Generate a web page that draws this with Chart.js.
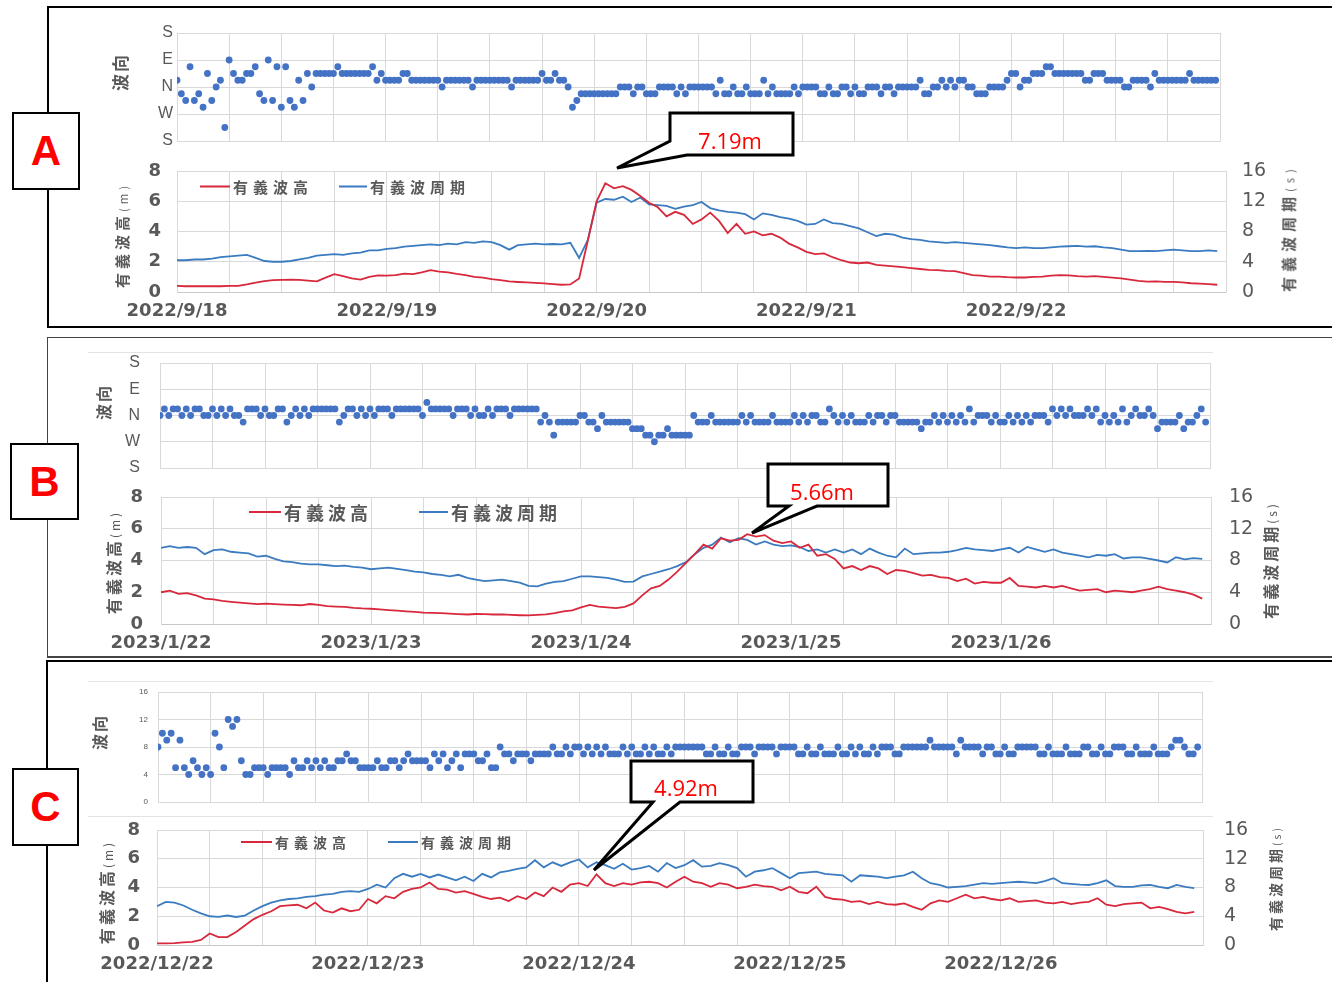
<!DOCTYPE html>
<html lang="ja">
<head>
<meta charset="utf-8">
<title>有義波高・有義波周期・波向</title>
<script src="https://cdn.jsdelivr.net/npm/chart.js@4.4.1/dist/chart.umd.min.js"></script>
<style>
html, body { margin: 0; padding: 0; background: #fff; }
body { position: relative; width: 1332px; height: 982px; overflow: hidden; font-family: "Noto Sans CJK JP", "Noto Sans", sans-serif; }
canvas { position: absolute; }
.frame { position: absolute; box-sizing: border-box; }
.tag { position: absolute; box-sizing: border-box; border: 2px solid #000; background: #fff; color: #f00; font: bold 42px "Liberation Sans", sans-serif; display: flex; align-items: center; justify-content: center; z-index: 5; }
.vt { position: absolute; white-space: nowrap; color: #595959; font-weight: bold; line-height: 1; transform: translate(-50%, -50%) rotate(-90deg); }
.vt small { font-size: 0.75em; font-weight: normal; }
.leg { position: absolute; white-space: nowrap; color: #595959; font-weight: bold; line-height: 1; display: flex; align-items: center; transform: translateY(-50%); }
.leg i { display: inline-block; height: 2px; margin-right: 3px; }
.sep { position: absolute; height: 1px; background: #e3e3e3; }
#callouts { position: absolute; left: 0; top: 0; z-index: 6; }
.note { position: absolute; color: #f00; font: 22px "Open Sans", sans-serif; line-height: 1; transform: translate(-50%, -50%); z-index: 7; }
</style>
</head>
<body>

<!-- panel frames -->
<div class="frame" style="left:47px;top:6px;width:1300px;height:322px;border:2px solid #000;"></div>
<div class="frame" style="left:47px;top:337px;width:1300px;height:321px;border:1px solid #444;border-bottom-width:2px;"></div>
<div class="frame" style="left:46px;top:660px;width:1300px;height:340px;border:2px solid #000;"></div>

<div class="sep" style="left:88px;top:352px;width:1125px;"></div>
<div class="sep" style="left:88px;top:681px;width:1125px;"></div>
<div class="sep" style="left:88px;top:816px;width:1125px;"></div>

<div class="tag" style="left:12px;top:112px;width:68px;height:78px;">A</div>
<div class="tag" style="left:10px;top:443px;width:69px;height:77px;">B</div>
<div class="tag" style="left:12px;top:768px;width:67px;height:78px;">C</div>

<canvas id="dirA"></canvas>
<canvas id="waveA"></canvas>
<canvas id="dirB"></canvas>
<canvas id="waveB"></canvas>
<canvas id="dirC"></canvas>
<canvas id="waveC"></canvas>

<!-- axis titles -->
<div class="vt" style="left:119px;top:72px;font-size:17px;letter-spacing:2px;">波向</div>
<div class="vt" style="left:122px;top:235px;font-size:15px;letter-spacing:4px;">有義波高<small>(m)</small></div>
<div class="vt" style="left:1288px;top:228px;font-size:15px;letter-spacing:5px;">有義波周期<small>(s)</small></div>

<div class="vt" style="left:103px;top:402px;font-size:16px;letter-spacing:2px;">波向</div>
<div class="vt" style="left:113px;top:562px;font-size:16px;letter-spacing:3px;">有義波高<small>(m)</small></div>
<div class="vt" style="left:1270px;top:560px;font-size:16px;letter-spacing:3px;">有義波周期<small>(s)</small></div>

<div class="vt" style="left:99px;top:732px;font-size:16px;letter-spacing:2px;">波向</div>
<div class="vt" style="left:106px;top:892px;font-size:16px;letter-spacing:3px;">有義波高<small>(m)</small></div>
<div class="vt" style="left:1275px;top:878px;font-size:14px;letter-spacing:3px;">有義波周期<small>(s)</small></div>

<!-- peak callouts -->
<svg id="callouts" width="1332" height="982">
  <polygon points="670,113 793,113 793,155 687,155 617,168 670,141" fill="#fff" stroke="#000" stroke-width="3"/>
  <polygon points="768,464 888,464 888,506 817,506 752,533 789,506 768,506" fill="#fff" stroke="#000" stroke-width="3"/>
  <polygon points="631,761 753,761 753,802 680,802 594,870 653,802 631,802" fill="#fff" stroke="#000" stroke-width="3"/>
</svg>
<div class="note" style="left:730px;top:140px;">7.19m</div>
<div class="note" style="left:822px;top:491px;">5.66m</div>
<div class="note" style="left:686px;top:787px;">4.92m</div>

<script>
// tick labels
const daysA = ['2022/9/18', '2022/9/19', '2022/9/20', '2022/9/21', '2022/9/22'];
const daysB = ['2023/1/22', '2023/1/23', '2023/1/24', '2023/1/25', '2023/1/26'];
const daysC = ['2022/12/22', '2022/12/23', '2022/12/24', '2022/12/25', '2022/12/26'];
const compassLabels = ['S', 'W', 'N', 'E', 'S'];
const codeLabels = ['0', '4', '8', '12', '16'];
const legendNames = ['有義波高', '有義波周期'];

// wave direction every 30 min, in 16-point compass steps (0 = N, 4 = E, -4 = W)
const dirA = [1,-1,-2,3,-2,-1,-3,2,-2,0,1,-6,
  4,2,1,1,2,2,3,-1,
  -2,4,-2,3,-3,3,-2,-3,1,-2,2,0,
  2,2,2,2,2,3,2,2,2,2,2,2,2,
  3,
  1,2,1,1,1,1,
  2,2,
  1,1,1,1,1,1,1,0,1,1,1,1,1,1,0,1,1,1,1,1,1,1,1,0,1,1,1,1,1,1,2,1,1,2,1,1,
  0,-3,-2,
  -1,-1,-1,-1,-1,-1,-1,-1,-1,
  0,0,0,
  -1,0,0,-1,-1,-1,0,
  0,0,0,-1,0,-1,0,0,0,0,0,0,
  -1,1,
  -1,-1,0,-1,-1,0,
  -1,-1,-1,1,-1,0,-1,-1,-1,-1,
  0,-1,0,0,0,0,
  -1,-1,0,-1,-1,
  0,0,-1,0,-1,-1,0,
  0,0,-1,0,0,-1,0,0,0,0,0,
  1,-1,-1,0,0,1,0,1,0,1,1,0,0,
  -1,-1,-1,0,0,0,0,
  1,2,2,0,1,1,
  2,2,2,3,3,2,2,2,2,2,2,2,1,1,2,2,2,
  1,1,1,1,0,0,1,1,1,1,0,2,
  1,1,1,1,1,1,1,2,1,1,1,1,1,1];

const dirB = [0,1,0,1,1,0,
  1,0,1,1,0,
  0,1,0,1,0,1,0,
  0,-1,1,1,1,
  0,1,0,0,
  1,1,-1,0,1,0,1,
  0,1,1,1,1,1,1,
  -1,0,1,1,0,1,0,1,0,
  1,1,1,0,1,1,1,1,1,1,
  0,2,1,1,1,1,1,0,1,1,1,
  0,1,0,0,1,0,1,1,1,0,
  1,1,1,1,1,1,-1,0,
  -1,-3,-1,-1,-1,-1,-1,0,0,-1,-1,-2,0,-1,-1,-1,-1,-1,-1,
  -2,-2,-2,
  -3,-3,-4,-3,-3,-2,-3,-3,-3,-3,-3,
  0,-1,-1,-1,0,-1,-1,-1,-1,-1,
  -1,0,-1,0,-1,-1,-1,-1,0,-1,
  -1,-1,-1,0,-1,0,-1,0,0,-1,
  -1,1,0,-1,0,-1,0,-1,-1,-1,
  0,-1,0,0,-1,0,0,-1,-1,-1,
  -1,-1,-2,-1,-1,0,-1,0,-1,0,
  -1,0,-1,1,-1,0,0,0,-1,0,
  -1,-1,0,-1,0,-1,0,-1,0,0,
  0,-1,1,0,1,0,1,0,0,0,
  1,0,1,-1,0,-1,0,-1,1,-1,
  0,1,0,0,1,0,-2,-1,-1,-1,
  -1,0,-2,-1,-1,0,1,-1];

// panel C shows direction on a 0-16 scale
const dirC = [8,10,9,10,5,9,5,4,6,5,
  4,5,4,10,8,5,12,11,12,6,
  4,4,5,5,5,4,5,5,5,5,
  4,6,5,5,6,5,6,5,6,5,
  5,6,6,7,6,6,5,5,5,5,
  6,5,5,6,6,5,6,7,6,6,
  6,6,5,7,6,7,5,6,7,5,
  7,7,7,6,6,7,5,5,8,7,
  7,6,7,7,7,6,7,7,7,7,
  8,7,7,8,7,8,8,7,8,7,
  8,7,8,7,7,
  7,8,7,8,7,7,8,7,8,7,7,8,7,8,
  8,8,8,8,8,8,
  7,7,8,7,7,8,7,7,
  8,8,8,7,8,8,8,8,7,8,8,8,8,
  7,7,8,7,7,8,7,7,7,8,7,7,8,7,8,7,7,8,7,
  8,8,8,7,7,
  8,8,8,8,8,8,9,8,8,8,8,8,
  7,9,8,8,8,8,7,8,8,
  7,7,8,7,7,8,
  8,8,8,8,
  7,7,8,7,7,7,8,7,7,7,8,8,
  7,7,8,7,7,8,8,8,
  7,7,8,7,7,7,8,7,7,7,8,9,9,8,7,7,8];

// significant wave height (m), hourly
const heightA = [0.40,0.38,0.38,0.38,0.38,0.38,0.40,0.40,0.50,0.62,
  0.72,0.78,0.80,0.82,0.80,0.75,0.70,0.95,1.18,1.05,
  0.90,0.82,1.00,1.10,1.08,1.12,1.22,1.18,1.30,1.45,
  1.35,1.30,1.20,1.12,1.00,0.95,0.85,0.78,0.70,0.66,
  0.63,0.60,0.57,0.52,0.48,0.50,0.90,3.40,6.00,7.19,
  6.85,7.00,6.75,6.35,5.90,5.60,5.00,5.30,5.10,4.50,
  4.80,5.25,4.70,3.90,4.50,3.85,4.00,3.75,3.85,3.60,
  3.20,2.95,2.65,2.50,2.55,2.30,2.10,1.95,1.90,1.95,
  1.80,1.75,1.70,1.65,1.58,1.52,1.46,1.44,1.40,1.38,
  1.25,1.12,1.08,1.02,1.02,0.98,0.96,0.96,1.00,1.02,
  1.08,1.12,1.10,1.05,1.02,1.05,1.00,0.95,0.90,0.82,
  0.74,0.68,0.70,0.67,0.67,0.64,0.58,0.56,0.52,0.48];

// significant wave period (s), hourly
const periodA = [4.2,4.2,4.3,4.3,4.4,4.6,4.7,4.8,4.9,4.5,
  4.1,4.0,4.0,4.1,4.3,4.5,4.8,4.9,5.0,4.9,
  5.1,5.2,5.5,5.5,5.7,5.8,6.0,6.1,6.2,6.3,
  6.2,6.4,6.3,6.6,6.5,6.7,6.6,6.2,5.6,6.2,
  6.3,6.4,6.3,6.35,6.3,6.5,4.5,6.9,11.8,12.3,
  12.2,12.6,11.9,12.5,11.6,11.5,11.4,11.0,11.3,11.5,
  11.9,11.1,10.8,10.6,10.5,10.3,9.6,10.4,10.2,9.9,
  9.7,9.4,8.9,9.0,9.6,9.1,9.0,8.7,8.4,7.9,
  7.4,7.7,7.6,7.2,7.0,6.9,6.7,6.6,6.5,6.6,
  6.5,6.4,6.3,6.2,6.05,5.9,5.8,5.9,5.8,5.8,
  5.9,6.0,6.05,6.1,6.0,6.05,5.9,5.8,5.6,5.4,
  5.4,5.45,5.4,5.5,5.6,5.5,5.4,5.4,5.5,5.4];

const heightB = [2.0,2.1,1.9,1.95,1.8,1.6,1.55,1.45,1.4,1.35,
  1.3,1.25,1.28,1.25,1.22,1.2,1.18,1.26,1.2,1.12,
  1.1,1.08,1.02,0.98,0.96,0.92,0.88,0.84,0.8,0.76,
  0.72,0.7,0.68,0.65,0.62,0.6,0.63,0.62,0.6,0.6,
  0.57,0.55,0.54,0.57,0.6,0.68,0.8,0.86,1.05,1.2,
  1.1,1.05,1.0,1.08,1.3,1.8,2.25,2.4,2.8,3.3,
  3.85,4.4,5.0,4.75,5.4,5.25,5.3,5.66,5.5,5.6,
  5.25,5.1,5.2,4.8,5.0,4.3,4.4,4.1,3.5,3.65,
  3.4,3.65,3.5,3.15,3.4,3.35,3.2,3.05,3.1,2.95,
  2.9,2.7,2.85,2.55,2.65,2.6,2.6,2.9,2.4,2.35,
  2.3,2.4,2.3,2.4,2.25,2.1,2.15,2.2,2.0,2.1,
  2.05,2.0,2.1,2.2,2.35,2.2,2.1,2.0,1.85,1.6];

const periodB = [9.6,9.8,9.6,9.7,9.6,8.8,9.3,9.4,9.1,9.0,
  8.9,8.5,8.6,8.2,7.9,7.8,7.6,7.5,7.5,7.4,
  7.3,7.35,7.2,7.1,6.9,7.0,7.1,6.95,6.8,6.6,
  6.5,6.3,6.2,6.0,6.2,5.8,5.6,5.4,5.5,5.6,
  5.4,5.2,4.8,4.75,5.1,5.3,5.4,5.7,6.0,6.0,
  5.9,5.8,5.6,5.3,5.35,6.0,6.3,6.6,6.9,7.3,
  7.8,8.8,9.6,10.0,10.9,10.3,10.8,10.6,10.0,10.4,
  10.0,9.8,9.9,9.7,9.2,9.4,9.0,9.4,9.0,9.4,
  8.8,9.5,9.0,8.6,8.4,9.5,8.8,8.9,9.0,9.0,
  9.1,9.3,9.6,9.4,9.3,9.2,9.4,9.6,9.0,9.7,
  9.4,9.1,9.4,9.0,8.8,8.6,8.4,8.7,8.6,8.8,
  8.25,8.4,8.4,8.2,8.0,7.75,8.4,8.15,8.3,8.2];

const heightC = [0.12,0.12,0.13,0.18,0.22,0.35,0.8,0.55,0.55,0.9,
  1.35,1.8,2.1,2.35,2.7,2.75,2.8,2.55,2.95,2.4,
  2.25,2.55,2.35,2.45,3.2,2.9,3.4,3.25,3.7,3.9,
  4.0,4.35,3.9,3.85,3.65,3.75,3.55,3.35,3.2,3.3,
  3.06,3.4,3.2,3.65,3.4,4.0,3.7,4.2,4.3,4.1,
  4.92,4.3,4.1,4.3,4.2,4.35,4.4,4.3,4.0,4.4,
  4.75,4.4,4.3,4.05,4.3,4.2,3.95,4.05,4.2,4.1,
  4.05,3.8,4.05,3.7,3.6,4.05,3.35,3.2,3.15,3.0,
  3.05,2.85,3.0,2.85,2.8,2.9,2.65,2.45,2.9,3.1,
  3.0,3.25,3.5,3.25,3.35,3.2,3.1,3.25,3.0,3.05,
  3.1,2.95,2.9,3.0,2.85,2.95,3.0,3.25,2.8,2.7,
  2.85,2.9,2.95,2.55,2.65,2.5,2.3,2.2,2.3];

const periodC = [5.4,6.0,5.9,5.5,4.9,4.4,4.0,3.9,4.1,3.9,
  4.1,4.8,5.4,5.9,6.2,6.4,6.5,6.7,6.8,7.0,
  7.1,7.4,7.5,7.4,7.8,8.4,8.0,9.3,9.9,9.5,
  9.9,9.4,9.8,9.4,9.0,9.5,8.9,9.9,9.4,10.1,
  10.3,10.6,10.8,11.8,10.8,11.5,11.0,11.5,11.9,10.8,
  11.5,11.1,10.6,11.3,10.5,10.7,11.0,10.2,11.4,10.7,
  11.1,11.8,10.9,11.0,11.4,11.1,10.7,9.5,10.2,10.4,
  10.7,10.0,9.3,10.0,10.1,10.2,9.9,9.8,9.7,8.8,
  9.7,9.6,9.5,9.3,9.5,9.7,10.2,9.3,8.6,8.35,
  8.0,8.1,8.2,8.4,8.6,8.5,8.6,8.7,8.8,8.7,
  8.6,8.9,9.3,8.6,8.5,8.4,8.35,8.6,9.0,8.2,
  8.1,8.1,8.3,8.35,8.1,7.9,8.35,8.1,7.9];

const INK = '#595959';
const GRID = '#d9d9d9';
const RED = '#d8283c';
const BLUE = '#3b7bbf';
const DOT = '#4472c4';

function place(id, box) {
  const c = document.getElementById(id);
  c.width = box.w;
  c.height = box.h;
  c.style.left = box.x + 'px';
  c.style.top = box.y + 'px';
  return c;
}

// pin a scale to a fixed size so the plot area lands where the picture has it
function pinWidth(w) {
  return s => { s.width = w; s.paddingTop = 0; s.paddingBottom = 0; };
}
function pinHeight(h) {
  return s => { s.height = h; s.paddingLeft = 0; s.paddingRight = 0; };
}

// scatter of wave direction; plot = page coords of the plot area
function directionChart(id, box, plot, values, axis) {
  const canvas = place(id, box);
  return new Chart(canvas, {
    type: 'scatter',
    data: {
      datasets: [{
        data: values.map((v, j) => ({ x: j / 2, y: v })),
        backgroundColor: DOT,
        borderWidth: 0,
        pointRadius: 3.4
      }]
    },
    options: {
      responsive: false,
      animation: false,
      devicePixelRatio: 1,
      layout: { autoPadding: false, padding: { top: plot.t - box.y, right: box.x + box.w - plot.r, left: 0, bottom: 0 } },
      plugins: { legend: { display: false }, tooltip: { enabled: false } },
      scales: {
        x: {
          type: 'linear', min: 0, max: axis.xMax,
          ticks: { display: false, stepSize: 6 },
          grid: { color: GRID, drawTicks: false },
          border: { color: GRID },
          afterFit: pinHeight(box.y + box.h - plot.b)
        },
        y: {
          min: axis.min, max: axis.max,
          ticks: {
            stepSize: axis.step, padding: axis.pad, color: INK,
            font: { family: 'Liberation Sans', size: axis.size },
            callback: v => axis.labels[(v - axis.min) / axis.step]
          },
          grid: { color: GRID, drawTicks: false },
          border: { color: GRID },
          afterFit: pinWidth(plot.l - box.x)
        }
      }
    }
  });
}

// wave height (left axis) and wave period (right axis)
function waveChart(id, box, plot, height, period, axis) {
  const canvas = place(id, box);
  const tickFont = { family: 'DejaVu Sans', size: 18, weight: 'bold' };
  return new Chart(canvas, {
    type: 'line',
    data: {
      datasets: [
        { label: legendNames[0], data: height.map((v, i) => ({ x: i, y: v })), borderColor: RED, borderWidth: 1.8, pointRadius: 0, yAxisID: 'y' },
        { label: legendNames[1], data: period.map((v, i) => ({ x: i, y: v })), borderColor: BLUE, borderWidth: 1.8, pointRadius: 0, yAxisID: 'y2' }
      ]
    },
    options: {
      responsive: false,
      animation: false,
      devicePixelRatio: 1,
      layout: { autoPadding: false, padding: { top: plot.t - box.y, left: 0, right: 0, bottom: 0 } },
      plugins: { legend: { display: false }, tooltip: { enabled: false } },
      scales: {
        x: {
          type: 'linear', min: 0, max: axis.xMax,
          ticks: {
            stepSize: 6, autoSkip: false, maxRotation: 0, padding: 9, color: INK, font: tickFont,
            callback: v => (v % 24 === 0 && axis.days[v / 24]) || ''
          },
          grid: { color: GRID, drawTicks: false },
          border: { color: '#c8c8c8' },
          afterFit: pinHeight(box.y + box.h - plot.b)
        },
        y: {
          position: 'left', min: 0, max: 8,
          ticks: { stepSize: 2, padding: axis.padL, color: INK, font: tickFont },
          grid: { color: GRID, drawTicks: false },
          border: { color: GRID },
          afterFit: pinWidth(plot.l - box.x)
        },
        y2: {
          position: 'right', min: 0, max: 16,
          ticks: { stepSize: 4, padding: axis.padR, color: INK, font: { family: 'DejaVu Sans', size: 19 } },
          grid: { display: false },
          border: { color: GRID },
          afterFit: pinWidth(box.x + box.w - plot.r)
        }
      }
    }
  });
}

function addLegend(y, size, spacing, items) {
  items.forEach((item, k) => {
    const el = document.createElement('div');
    el.className = 'leg';
    el.style.left = item.x + 'px';
    el.style.top = y + 'px';
    el.style.fontSize = size + 'px';
    el.style.letterSpacing = spacing + 'px';
    el.innerHTML = '<i style="width:' + item.len + 'px;background:' + (k === 0 ? RED : BLUE) + '"></i>' + legendNames[k];
    document.body.appendChild(el);
  });
}

const compass = { min: -8, max: 8, step: 4, labels: compassLabels, size: 16 };

// Panel A
directionChart('dirA', { x: 100, y: 18, w: 1130, h: 134 }, { l: 177, t: 33, r: 1220, b: 141 }, dirA,
  Object.assign({}, compass, { pad: 4, xMax: 120 }));
waveChart('waveA', { x: 40, y: 156, w: 1250, h: 169 }, { l: 177, t: 171, r: 1226, b: 292 }, heightA, periodA,
  { days: daysA, xMax: 120, padL: 16, padR: 8 });
addLegend(186, 15, 5, [{ x: 200, len: 30 }, { x: 339, len: 28 }]);

// Panel B
directionChart('dirB', { x: 90, y: 349, w: 1130, h: 130 }, { l: 160, t: 363, r: 1210, b: 468 }, dirB,
  Object.assign({}, compass, { pad: 20, xMax: 120 }));
waveChart('waveB', { x: 40, y: 483, w: 1240, h: 172 }, { l: 161, t: 497, r: 1211, b: 624 }, heightB, periodB,
  { days: daysB, xMax: 120, padL: 18, padR: 10 });
addLegend(512, 18, 4, [{ x: 249, len: 32 }, { x: 419, len: 29 }]);

// Panel C
directionChart('dirC', { x: 90, y: 683, w: 1120, h: 129 }, { l: 158, t: 692, r: 1202, b: 802 }, dirC,
  { min: 0, max: 16, step: 4, labels: codeLabels, size: 8, pad: 10, xMax: 119 });
waveChart('waveC', { x: 40, y: 817, w: 1240, h: 165 }, { l: 157, t: 830, r: 1203, b: 945 }, heightC, periodC,
  { days: daysC, xMax: 119, padL: 17, padR: 13 });
addLegend(842, 14, 5, [{ x: 241, len: 31 }, { x: 388, len: 30 }]);
</script>
</body>
</html>
